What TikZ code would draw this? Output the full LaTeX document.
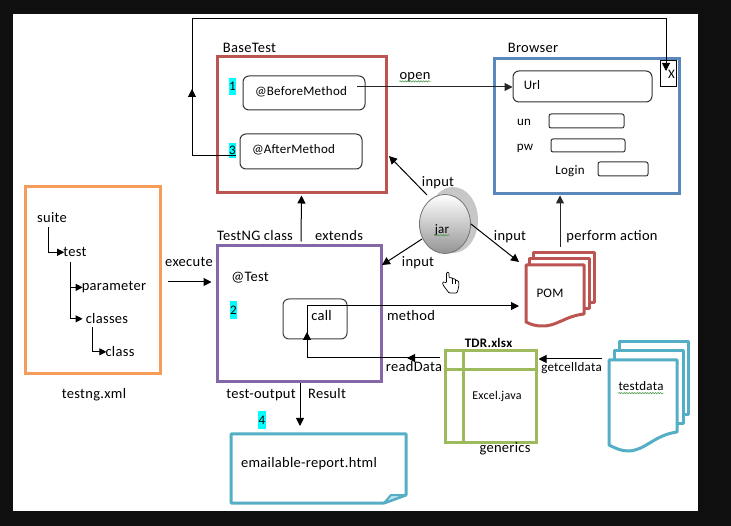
\documentclass[tikz,border=0pt]{standalone}
\usepackage{fontspec}
\setmainfont{Carlito}[LetterSpace=2]
\usetikzlibrary{arrows.meta,shapes.geometric,decorations.pathmorphing}
\definecolor{bgdark}{HTML}{0F0F0F}
\definecolor{cred}{HTML}{BC5551}
\definecolor{cblue}{HTML}{5B88BC}
\definecolor{cpurple}{HTML}{8467A6}
\definecolor{corange}{HTML}{F59D58}
\definecolor{cteal}{HTML}{53AEC6}
\definecolor{cgreen}{HTML}{9DBB5C}
\definecolor{ccyan}{HTML}{00FFFF}
\definecolor{squig}{HTML}{4C9A4C}
\tikzset{
  bigbox/.style={draw,line width=3pt,inner sep=0pt,fill=none},
  roundbox/.style={draw=black!80,line width=1pt,rounded corners=6pt,inner sep=0pt},
  smallbox/.style={draw=black!80,line width=1pt,rounded corners=2pt,inner sep=0pt},
  lbl/.style={inner sep=0pt,yshift=-.8pt,font=\fontsize{14.5}{16}\selectfont},
  sml/.style={inner sep=0pt,yshift=-.8pt,font=\fontsize{13}{15}\selectfont},
  num/.style={fill=ccyan,inner sep=0pt,font=\fontsize{13}{15}\selectfont},
  arr/.style={-{Triangle[length=8pt,width=8pt]},line width=1pt,black},
  plainline/.style={line width=1pt,black},
  docline/.style={line width=3pt,line join=round,fill=white},
  wavy/.style={draw=squig,line width=.6pt,decorate,decoration={snake,amplitude=.6pt,segment length=2.6pt}},
}
\begin{document}
\begin{tikzpicture}[x=1pt,y=-1pt]
\useasboundingbox (0,0) rectangle (731,526);
\fill[bgdark] (0,0) rectangle (731,526);
\fill[white] (13,14) rectangle (698,511);

% --- BaseTest
\node[bigbox,draw=cred,minimum width=169pt,minimum height=136pt] (basetest) at (301.5,125) {};
\node[lbl,anchor=base] (basetestlbl) at (249.5,52) {BaseTest};
\node[roundbox,minimum width=122pt,minimum height=34pt] (before) at (304,93) {};
\node[sml,anchor=base] (beforelbl) at (301,95) {@BeforeMethod};
\node[roundbox,minimum width=122pt,minimum height=35pt] (after) at (301,151.5) {};
\node[sml,anchor=base] (afterlbl) at (293.5,153) {@AfterMethod};
\node[num,minimum width=7pt,minimum height=17pt] (n1) at (232.5,86.5) {1};
\node[num,minimum width=7pt,minimum height=15pt] (n3) at (232.5,150.5) {3};

% --- Browser
\node[bigbox,draw=cblue,minimum width=185pt,minimum height=135pt] (browser) at (586.5,126.5) {};
\node[lbl,anchor=base] (browserlbl) at (533,52) {Browser};
\node[roundbox,minimum width=139pt,minimum height=31pt] (url) at (582.5,86.5) {};
\node[sml,anchor=base] (urllbl) at (532,89) {Url};
\node[sml,anchor=base] (unlbl) at (524,125) {un};
\node[smallbox,minimum width=75pt,minimum height=14pt] (unbox) at (586.5,121) {};
\node[sml,anchor=base] (pwlbl) at (525,150) {pw};
\node[smallbox,minimum width=74pt,minimum height=13pt] (pwbox) at (588,145.5) {};
\node[sml,anchor=base] (loginlbl) at (570,174) {Login};
\node[smallbox,minimum width=50pt,minimum height=14pt] (loginbox) at (623,169) {};
\node[draw=black,line width=1pt,inner sep=0pt,minimum width=16pt,minimum height=26pt] (xbox) at (668,74) {};
\node[sml,anchor=base] (xlbl) at (671.5,78) {X};
\coordinate (leftrail) at (192,19);

% --- testng.xml
\node[bigbox,draw=corange,minimum width=135pt,minimum height=187pt] (suitebox) at (93,280.5) {};
\node[lbl,anchor=base] (suite) at (52,222) {suite};
\node[lbl,anchor=base] (test) at (75,256) {test};
\node[lbl,anchor=base] (param) at (114,290) {parameter};
\node[lbl,anchor=base] (classes) at (107,323) {classes};
\node[lbl,anchor=base] (class) at (120,356) {class};
\node[lbl,anchor=base] (xml) at (94,398) {testng.xml};
\draw[arr,-{Triangle[length=7pt,width=7pt]}] (48,227) |- ([xshift=1pt]test.west);
\draw[arr,-{Triangle[length=7pt,width=7pt]}] (70,262) |- ([xshift=1pt]param.west);
\draw[arr,-{Triangle[length=7pt,width=7pt]}] (70,287) |- ([xshift=-3pt]classes.west);
\draw[arr,-{Triangle[length=7pt,width=7pt]}] (92,327) |- ([xshift=1pt]class.west);

% --- TestNG class
\node[bigbox,draw=cpurple,minimum width=164pt,minimum height=136pt] (testng) at (299,314) {};
\node[lbl,anchor=base] (testnglbl) at (255,240) {TestNG class};
\node[lbl,anchor=base] (extends) at (339,240) {extends};
\node[lbl,anchor=base] (execute) at (189,266) {execute};
\node[lbl,anchor=base] (atest) at (250,281) {@Test};
\node[num,minimum width=7pt,minimum height=18pt] (n2) at (233.5,310) {2};
\node[draw=black!75,line width=1pt,rounded corners=6pt,inner sep=0pt,minimum width=64pt,minimum height=40pt] (call) at (315,319) {};
\node[lbl,anchor=base] (calllbl) at (321.5,320) {call};
\node[lbl,anchor=base] (method) at (411,320) {method};
\node[lbl,anchor=base] (readdata) at (414,371) {readData};
\node[lbl,anchor=base] (testoutput) at (261,398) {test-output};
\node[lbl,anchor=base] (result) at (327,398) {Result};
\node[num,minimum width=8pt,minimum height=18pt] (n4) at (262,420) {4};

% --- report
\draw[cteal,docline] (231,434) -- (406,434) -- (406,495) -- (384,503) -- (231,503) -- cycle;
\draw[cteal,line width=2pt,line join=round,fill=cteal!35] (384,503) -- (391,495) -- (406,495) -- cycle;
\node[lbl,anchor=base] (report) at (309,467) {emailable-report.html};
\coordinate (reporttop) at (300,426);

% --- jar
\node[ellipse,fill=black!22,inner sep=0pt,minimum width=50pt,minimum height=66pt] (jarback) at (453,220) {};
\node[ellipse,draw=black!55,line width=.8pt,inner sep=0pt,top color=white,bottom color=black!42,minimum width=51pt,minimum height=59pt] (jar) at (445,224) {};
\node[sml,anchor=base] (jarlbl) at (442,233) {jar};
\node[lbl,anchor=base] (in1) at (438,186) {input};
\node[lbl,anchor=base] (in2) at (418,266) {input};
\node[lbl,anchor=base] (in3) at (510,240) {input};

% --- POM
\draw[cred,docline] (533,253) -- (594,253) -- (594,303) -- (533,303) -- cycle;
\draw[cred,docline] (529,259) -- (589,259) -- (589,309) -- (529,309) -- cycle;
\draw[cred,docline] (526,265) -- (584,265) -- (584,314) .. controls (565,316) and (556,327) .. (541,326) .. controls (535,326) and (530,324) .. (526,322) -- cycle;
\node[sml,anchor=base] (pom) at (550,297) {POM};
\node[lbl,anchor=base] (perform) at (612,240) {perform action};

% --- Excel
\node[bigbox,draw=cgreen,minimum width=91pt,minimum height=91pt] (excel) at (490.5,396.5) {};
\draw[cgreen,line width=3pt] (excel.north -| 463,0) -- (excel.south -| 463,0);
\draw[cgreen,line width=3pt] (excel.west |- 0,369.5) -- (excel.east |- 0,369.5);
\node[sml,anchor=base,font=\fontsize{13}{15}\selectfont\bfseries] (tdr) at (488.5,347) {TDR.xlsx};
\node[inner sep=0pt,anchor=base,yshift=-.8pt,font=\fontsize{12}{14}\selectfont] (exceljava) at (497,399) {Excel.java};
\node[lbl,anchor=base] (generics) at (505,452) {generics};
\node[sml,anchor=base] (getcell) at (571.5,371) {getcelldata};

% --- testdata
\draw[cteal,docline] (619,342) -- (688,342) -- (688,415) -- (619,415) -- cycle;
\draw[cteal,docline] (614,351) -- (683,351) -- (683,424) -- (614,424) -- cycle;
\draw[cteal,docline] (609,360) -- (677,360) -- (677,432) .. controls (654,435) and (645,451) .. (628,451) .. controls (621,451) and (615,448) .. (609,445) -- cycle;
\node[sml,anchor=base] (tdata) at (641,390) {testdata};

% --- squiggles
\node[lbl,anchor=base] (open) at (415,79) {open};
\draw[wavy] ([shift={(0,-1)}]open.south west) -- ([shift={(0,-1)}]open.south east);
\draw[wavy] ([shift={(0,-1)}]jarlbl.south west) -- ([shift={(0,-1)}]jarlbl.south east);
\draw[wavy] ([shift={(0,2)}]tdata.south west) -- ([shift={(0,2)}]tdata.south east);

% --- connectors
\draw[plainline] (n3.east |- 0,156) -- (192,156) -- (leftrail) -- (666,19) -- ([shift={(-2,-3)}]xbox.north);
\draw[arr] (192,156) -- (192,89);
\draw[arr] (666,19) -- (666,71);
\draw[arr,black!85] (357,87) -- (url.west |- 0,87);
\draw[arr] ([shift={(2,-3)}]testng.north) -- ([shift={(0,1)}]basetest.south);
\draw[arr] ([shift={(6,0)}]suitebox.east |- 0,282) -- ([xshift=-4pt]testng.west |- 0,282);
\draw[arr] (427,195) -- (389,156);
\draw[arr] (422,239) -- (382,265);
\draw[arr] (471,224) -- (519,262);
\coordinate (performstart) at (560,247);
\draw[arr,black!85] (performstart) -- (browser.south -| performstart);
\draw[plainline] (307,358) -- (307,306) -- (500,306);
\draw[arr] (500,306) -- (519,306);
\draw[arr] (307,358) -- (307,332);
\draw[plainline] (307,358) -- (440,358);
\draw[arr] (440,358) -- (407,358);
\draw[arr] (602,359) -- ([xshift=1pt]excel.east |- 0,359);
\draw[arr] ([xshift=1pt]testng.south) -- (reporttop);

% --- hand cursor
\draw[line width=.7pt,fill=white,line join=round,rounded corners=1pt] (446.5,283) -- (446.5,272.5) -- (448.8,272) -- (449.2,278) -- (452,277.5) -- (452.4,279) -- (455,278.5) -- (455.6,280.5) -- (458,280.5) -- (459,283) -- (458.5,288) -- (457,293) -- (449,293) -- (443,285) -- (442.5,282) -- (444.5,282) -- cycle;
\draw[line width=.5pt] (452.2,279) -- (452.2,284) (455.2,280.5) -- (455.2,284);
\end{tikzpicture}
\end{document}
